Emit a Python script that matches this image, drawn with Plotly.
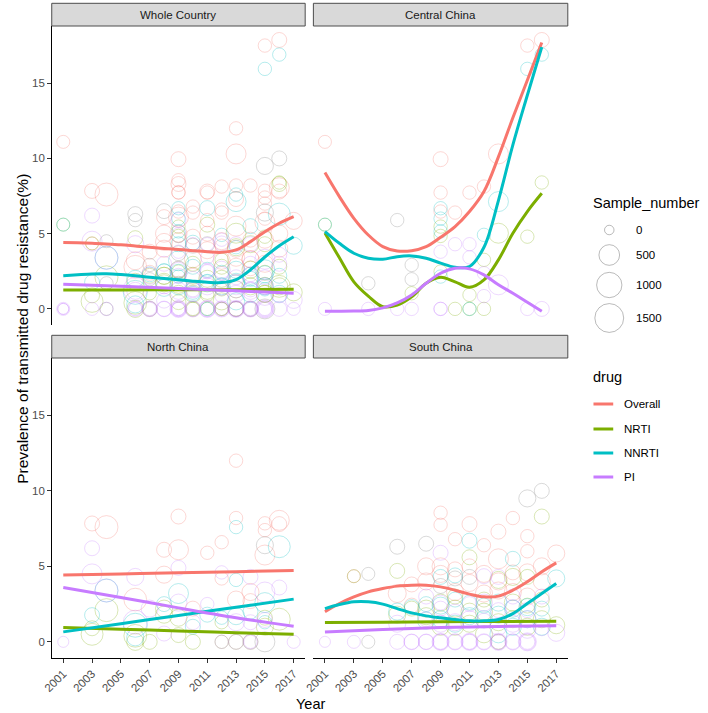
import math
import plotly.graph_objects as go

# ---------------- data ----------------
DRUGS = ["Overall", "NRTI", "NNRTI", "PI"]
PANELS = ["Whole Country", "Central China", "North China", "South China"]
YEAR_TICKS = [2001, 2003, 2005, 2007, 2009, 2011, 2013, 2015, 2017]
Y_TICKS = [0, 5, 10, 15]
SIZE_BREAKS = [0, 500, 1000, 1500]

# points: (year, prevalence %, sample_number)
north_overall = [(2003, 7.84, 120), (2004, 7.6, 730), (2006, 2.8, 700), (2008, 6.1, 120),
                 (2008, 4.45, 230), (2009, 8.3, 120), (2009, 6.1, 440), (2010, 2.2, 120), (2011, 5.9, 60),
                 (2012, 6.6, 60), (2012, 4.2, 60), (2013, 12.0, 60), (2013, 8.2, 60), (2013, 2.8, 230),
                 (2014, 3.3, 230), (2014, 2.7, 120), (2015, 7.85, 60), (2015, 7.4, 60), (2015, 5.75, 440),
                 (2016, 8.05, 440), (2016, 7.8, 120)]
north_nrti = [(2003, 0.9, 120), (2003, 0.5, 620), (2004, 2.1, 730), (2006, 0.4, 700),
              (2006, 0, 230), (2007, 0, 120), (2008, 2.2, 230), (2008, 1.8, 230), (2009, 1.6, 230),
              (2009, 0.45, 120), (2010, 0, 120), (2012, 1.3, 60), (2012, 0, 60), (2013, 0, 120),
              (2014, 0, 120), (2015, 1.6, 120), (2015, 1.0, 230), (2016, 1.5, 620)]
north_nnrti = [(2003, 1.77, 120), (2004, 3.4, 730), (2006, 1.1, 840), (2006, 0.3, 230),
               (2008, 2.5, 120), (2009, 3.2, 440), (2010, 1.0, 120), (2011, 1.8, 120), (2012, 1.6, 60),
               (2013, 7.6, 60), (2013, 4.1, 60), (2013, 1.7, 230), (2014, 2.0, 120),
               (2015, 2.6, 440), (2015, 1.3, 60), (2016, 6.3, 620)]
north_pi = [(2001, 0, 10), (2003, 6.2, 120), (2003, 4.5, 440), (2004, 3.4, 730), (2006, 4.3, 230),
            (2006, 1.3, 840), (2007, 2.2, 230), (2008, 0.55, 120), (2009, 4.9, 120), (2009, 2.6, 230),
            (2010, 1.3, 120), (2011, 2.5, 60), (2012, 4.6, 60), (2012, 0, 60),
            (2013, 1.3, 230), (2013, 0, 120), (2014, 4.3, 120), (2014, 1.3, 120), (2014, 0, 120),
            (2014, 0, 60), (2015, 3.3, 440), (2015, 1.45, 120), (2016, 3.6, 120), (2017, 0, 50)]
north_unassigned = [(2015, 6.4, 230), (2015, 0, 440)]

central_overall = [(2001, 11.1, 50), (2009, 9.95, 120), (2009, 7.73, 60), (2009, 6.47, 60),
                   (2010, 6.4, 60), (2011, 7.73, 60), (2012, 8.13, 60), (2013, 10.3, 440), (2015, 17.5, 60),
                   (2016, 17.87, 120)]
central_nrti = [(2001, 5.6, 50), (2007, 1.04, 60), (2009, 5.47, 60), (2009, 4.85, 60),
                (2009, 2.48, 60), (2010, 0, 60), (2011, 0.93, 60), (2011, 0, 60), (2012, 3.26, 60),
                (2012, 0, 60), (2013, 5.03, 440), (2015, 4.8, 60), (2016, 8.4, 60)]
central_nnrti = [(2001, 5.6, 50), (2009, 6.69, 60), (2009, 6.0, 60), (2009, 5.15, 60),
                 (2009, 2.15, 60), (2011, 0, 60), (2012, 4.92, 60), (2013, 7.13, 440), (2015, 15.95, 60),
                 (2016, 16.9, 60)]
central_pi = [(2001, 0, 50), (2004, 0, 60), (2006, 0, 60), (2007, 0, 60), (2009, 3.8, 60), (2009, 0, 60),
              (2009, 0, 60), (2010, 4.3, 60), (2011, 4.3, 60), (2011, 3.43, 60), (2012, 2.37, 60),
              (2012, 0.85, 60), (2013, 1.6, 440), (2015, 0, 60), (2016, 0, 120)]
central_unassigned = [(2004, 1.7, 60), (2006, 5.9, 60), (2007, 2.92, 60), (2007, 1.97, 60)]

south_overall = [(2003, 4.35, 50), (2006, 3.2, 290), (2007, 2.4, 120), (2007, 3.8, 120),
                 (2008, 5.0, 230), (2008, 4.0, 230), (2009, 8.55, 60), (2009, 7.75, 60), (2009, 5.0, 230),
                 (2009, 4.5, 230), (2010, 6.8, 60), (2010, 4.8, 120), (2010, 3.3, 230), (2011, 7.8, 120),
                 (2011, 5.0, 120), (2011, 3.9, 230), (2012, 6.4, 60), (2012, 4.5, 230), (2012, 3.2, 230),
                 (2013, 7.3, 120), (2013, 5.5, 440), (2013, 4.0, 230), (2013, 3.4, 230), (2014, 8.2, 60),
                 (2014, 4.6, 120), (2014, 3.3, 230), (2015, 7.0, 60), (2015, 6.0, 60), (2015, 4.6, 230),
                 (2015, 3.0, 230), (2016, 5.0, 230), (2016, 4.0, 230), (2017, 5.85, 230)]
south_nrti = [(2003, 4.35, 50), (2006, 4.7, 120), (2006, 1.8, 230), (2007, 2.2, 120), (2008, 2.2, 230),
              (2008, 1.7, 230), (2009, 2.6, 230), (2009, 1.0, 230), (2010, 3.0, 120), (2010, 2.2, 230),
              (2010, 1.0, 230), (2011, 5.6, 120), (2011, 2.0, 230), (2011, 1.2, 230), (2012, 2.8, 120),
              (2012, 2.0, 230), (2012, 0.5, 230), (2013, 4.1, 230), (2013, 1.3, 230), (2013, 0, 120),
              (2014, 4.3, 230), (2014, 2.6, 230), (2014, 1.5, 230), (2015, 4.3, 120), (2015, 2.4, 120),
              (2015, 1.0, 230), (2016, 8.3, 120), (2016, 2.8, 120), (2016, 1.5, 230), (2017, 1.1, 230)]
south_nnrti = [(2006, 2.0, 230), (2007, 2.3, 120), (2008, 2.5, 120), (2008, 1.4, 230), (2009, 4.3, 120),
               (2009, 2.4, 230), (2009, 1.5, 230), (2010, 4.4, 120), (2010, 2.8, 120), (2010, 1.2, 230),
               (2011, 6.7, 120), (2011, 2.6, 120), (2011, 1.7, 230), (2012, 2.4, 120), (2012, 1.5, 230),
               (2013, 2.6, 230), (2013, 1.8, 230), (2013, 0.5, 230), (2014, 5.5, 120), (2014, 2.2, 230),
               (2014, 1.0, 230), (2015, 2.3, 230), (2015, 1.5, 230), (2016, 2.2, 120), (2016, 1.0, 230),
               (2017, 4.2, 230)]
south_pi = [(2001, 0, 10), (2003, 0, 50), (2006, 1.2, 230), (2006, 0, 120), (2007, 0, 120), (2007, 0, 150),
            (2008, 3.0, 120), (2008, 1.5, 120), (2008, 0, 120), (2008, 0, 150), (2009, 5.9, 120),
            (2009, 2.6, 120), (2009, 2.2, 120), (2009, 1.2, 230), (2009, 0, 120), (2009, 0, 230),
            (2009, 0, 160), (2010, 2.0, 120), (2010, 1.3, 230), (2010, 0, 120), (2010, 0, 180),
            (2011, 2.5, 120), (2011, 1.5, 230), (2011, 0, 120), (2011, 0, 230), (2011, 0, 160),
            (2012, 4.35, 120), (2012, 2.6, 230), (2012, 1.4, 120), (2012, 0, 120), (2012, 0, 180),
            (2013, 4.3, 120), (2013, 2.1, 120), (2013, 1.0, 230), (2013, 0, 120), (2013, 0, 230),
            (2013, 0, 160), (2014, 3.0, 120), (2014, 2.3, 120), (2014, 1.2, 230), (2014, 0, 120),
            (2014, 0, 180), (2015, 2.1, 120), (2015, 1.5, 230), (2015, 0.8, 230), (2015, 0, 290),
            (2015, 0, 120), (2015, 0, 200), (2016, 3.0, 120), (2016, 0.9, 120), (2017, 0.6, 230)]
south_unassigned = [(2004, 4.5, 50), (2004, 0, 50), (2006, 6.3, 120), (2008, 6.5, 120), (2009, 3.7, 120),
                    (2010, 4.2, 120), (2011, 4.3, 120), (2015, 9.5, 230), (2016, 10.0, 120)]

# smoothed trend lines
fit_years_full = list(range(2001, 2018))
fit_years_central = list(range(2001, 2017))
fit_years_sparse = [2001, 2005, 2009, 2013, 2017]

wc_fit_overall = [4.41, 4.40, 4.37, 4.32, 4.26, 4.18, 4.10, 4.02, 3.95, 3.87, 3.80, 3.76, 3.92, 4.47, 5.13, 5.69, 6.13]
wc_fit_nnrti = [2.21, 2.27, 2.32, 2.33, 2.28, 2.20, 2.10, 2.02, 1.93, 1.84, 1.77, 1.75, 1.95, 2.60, 3.45, 4.20, 4.80]
wc_fit_nrti = [1.26, 1.26, 1.27, 1.28, 1.30]
wc_fit_pi = [1.64, 1.50, 1.36, 1.20, 1.04]

central_fit_overall = [9.06, 7.46, 6.02, 4.91, 4.14, 3.85, 3.87, 4.14, 4.76, 5.47, 6.47, 7.80, 10.1, 12.7, 15.2, 17.7]
central_fit_nnrti = [5.14, 4.36, 3.70, 3.37, 3.30, 3.47, 3.52, 3.37, 3.04, 2.77, 2.82, 4.10, 7.20, 10.9, 14.2, 17.4]
central_fit_nrti = [5.05, 3.40, 1.80, 0.85, 0.15, 0.25, 0.80, 1.70, 2.10, 1.80, 1.44, 1.93, 3.26, 5.03, 6.47, 7.68]
central_fit_pi = [-0.15, -0.15, -0.14, -0.10, 0.07, 0.40, 0.93, 1.70, 2.37, 2.70, 2.66, 2.26, 1.60, 1.04, 0.44, -0.15]

north_fit_overall = [4.42, 4.50, 4.58, 4.65, 4.73]
north_fit_nnrti = [0.66, 1.20, 1.75, 2.29, 2.83]
north_fit_nrti = [0.95, 0.84, 0.72, 0.61, 0.50]
north_fit_pi = [3.60, 2.94, 2.25, 1.60, 1.04]

south_fit_overall = [1.99, 2.54, 2.98, 3.31, 3.53, 3.69, 3.75, 3.75, 3.64, 3.42, 3.16, 2.98, 3.03, 3.42, 3.98, 4.64, 5.23]
south_fit_nnrti = [2.20, 2.47, 2.65, 2.65, 2.50, 2.20, 1.92, 1.72, 1.59, 1.48, 1.39, 1.39, 1.48, 1.87, 2.54, 3.20, 3.86]
south_fit_nrti = [1.28, 1.30, 1.33, 1.35, 1.37]
south_fit_pi = [0.66, 0.82, 0.95, 1.02, 1.06]

# ---------------- assembly ----------------
W, H = 708, 713
COLORS = {"Overall": "#F8766D", "NRTI": "#7CAE00", "NNRTI": "#00BFC4", "PI": "#C77CFF", "NA": "#7F7F7F"}
RGB = {"Overall": (248, 118, 109), "NRTI": (124, 174, 0), "NNRTI": (0, 191, 196), "PI": (199, 124, 255),
       "NA": (127, 127, 127)}
FONT = "Liberation Sans, Arial, Helvetica, sans-serif"
ALPHA = 0.45


def diam(n):
    return 9.5 + 0.5 * math.sqrt(n)


def fx(p):
    return p / W


def fy(p):
    return 1 - p / H


region_points = {
    "North China": {"Overall": north_overall, "NRTI": north_nrti, "NNRTI": north_nnrti, "PI": north_pi,
                    "NA": north_unassigned},
    "Central China": {"Overall": central_overall, "NRTI": central_nrti, "NNRTI": central_nnrti, "PI": central_pi,
                      "NA": central_unassigned},
    "South China": {"Overall": south_overall, "NRTI": south_nrti, "NNRTI": south_nnrti, "PI": south_pi,
                    "NA": south_unassigned},
}
GROUPS = DRUGS + ["NA"]
panel_points = dict(region_points)
panel_points["Whole Country"] = {
    g: region_points["North China"][g] + region_points["Central China"][g] + region_points["South China"][g]
    for g in GROUPS
}

panel_fits = {
    "Whole Country": {"Overall": (fit_years_full, wc_fit_overall), "NRTI": (fit_years_sparse, wc_fit_nrti),
                      "NNRTI": (fit_years_full, wc_fit_nnrti), "PI": (fit_years_sparse, wc_fit_pi)},
    "Central China": {"Overall": (fit_years_central, central_fit_overall), "NRTI": (fit_years_central, central_fit_nrti),
                      "NNRTI": (fit_years_central, central_fit_nnrti), "PI": (fit_years_central, central_fit_pi)},
    "North China": {"Overall": (fit_years_sparse, north_fit_overall), "NRTI": (fit_years_sparse, north_fit_nrti),
                    "NNRTI": (fit_years_sparse, north_fit_nnrti), "PI": (fit_years_sparse, north_fit_pi)},
    "South China": {"Overall": (fit_years_full, south_fit_overall), "NRTI": (fit_years_sparse, south_fit_nrti),
                    "NNRTI": (fit_years_full, south_fit_nnrti), "PI": (fit_years_sparse, south_fit_pi)},
}

# panel geometry in pixels: (left, right, top, bottom, is_left_col, is_bottom_row)
geom = {
    "Whole Country": (43.3, 300, 26, 325, True, False),
    "Central China": (308.3, 566, 26, 325, False, False),
    "North China": (43.3, 300, 358, 658, True, True),
    "South China": (308.3, 566, 358, 658, False, True),
}
STRIP_H = 22.7

fig = go.Figure()
layout = dict(
    width=W, height=H, margin=dict(l=0, r=0, t=0, b=0),
    paper_bgcolor="white", plot_bgcolor="white", showlegend=False,
    font=dict(family=FONT, size=11, color="#4D4D4D"),
)
shapes = []
annotations = []

for i, panel in enumerate(PANELS):
    k = "" if i == 0 else str(i + 1)
    xa, ya = "x" + k, "y" + k
    l, r, t, b, left, bottom = geom[panel]
    layout["xaxis" + k] = dict(
        domain=[fx(l), fx(r)], range=[2000.2, 2017.8], tickvals=YEAR_TICKS, ticktext=[str(v) for v in YEAR_TICKS],
        showgrid=False, zeroline=False, showline=bottom, linecolor="black", linewidth=1.1,
        ticks="outside" if bottom else "", ticklen=3.5, tickwidth=1, tickcolor="#333333",
        showticklabels=bottom, tickangle=-45, tickfont=dict(size=11.5, color="#4D4D4D"), anchor=ya,
    )
    layout["yaxis" + k] = dict(
        domain=[fy(b), fy(t)], range=[-1.07, 18.8], tickvals=Y_TICKS,
        showgrid=False, zeroline=False, showline=left, linecolor="black", linewidth=1.1,
        ticks="outside" if left else "", ticklen=3.5, tickwidth=1, tickcolor="#333333",
        showticklabels=left, tickfont=dict(size=11.5, color="#4D4D4D"), anchor=xa,
    )
    for g in GROUPS:
        pts = panel_points[panel][g]
        rr, gg, bb = RGB[g]
        fig.add_trace(go.Scatter(
            x=[p[0] for p in pts], y=[p[1] for p in pts], xaxis=xa, yaxis=ya, mode="markers",
            marker=dict(symbol="circle", size=[diam(p[2]) for p in pts], color="rgba(0,0,0,0)",
                        line=dict(color=f"rgba({rr},{gg},{bb},{ALPHA})", width=0.9)),
            hoverinfo="skip",
        ))
    shapes.append(dict(type="rect", xref="paper", yref="paper", x0=fx(l), x1=fx(r), y0=fy(t), y1=fy(t - STRIP_H),
                       fillcolor="#D9D9D9", line=dict(color="#4D4D4D", width=1)))
    annotations.append(dict(xref="paper", yref="paper", x=fx((l + r) / 2), y=fy(t - STRIP_H / 2), text=panel,
                            showarrow=False, font=dict(size=11.5, color="#1A1A1A", family=FONT),
                            xanchor="center", yanchor="middle"))

for i, panel in enumerate(PANELS):
    k = "" if i == 0 else str(i + 1)
    for d in DRUGS:
        xs, ys = panel_fits[panel][d]
        fig.add_trace(go.Scatter(
            x=xs, y=ys, xaxis="x" + k, yaxis="y" + k, mode="lines",
            line=dict(color=COLORS[d], width=3, shape="spline", smoothing=1.0), hoverinfo="skip",
        ))

# size legend drawn on its own pixel-scaled axes
size_legend_y = [230, 255, 285, 318]
layout["xaxis5"] = dict(domain=[fx(590), fx(630)], range=[590, 630], visible=False, anchor="y5")
layout["yaxis5"] = dict(domain=[fy(340), fy(215)], range=[340, 215], visible=False, anchor="x5")
fig.add_trace(go.Scatter(
    x=[608] * len(SIZE_BREAKS), y=size_legend_y, xaxis="x5", yaxis="y5", mode="markers",
    marker=dict(symbol="circle", size=[diam(v) for v in SIZE_BREAKS], color="rgba(0,0,0,0)",
                line=dict(color="rgba(0,0,0,0.42)", width=0.9)), hoverinfo="skip",
))
annotations.append(dict(xref="paper", yref="paper", x=fx(589), y=fy(203), text="Sample_number", showarrow=False,
                        xanchor="left", yanchor="middle", font=dict(size=14.5, color="black", family=FONT)))
for v, yy in zip(SIZE_BREAKS, size_legend_y):
    annotations.append(dict(xref="paper", yref="paper", x=fx(633), y=fy(yy), text=str(v), showarrow=False,
                            xanchor="left", yanchor="middle", font=dict(size=11.5, color="black", family=FONT)))

annotations.append(dict(xref="paper", yref="paper", x=fx(589), y=fy(377), text="drug", showarrow=False,
                        xanchor="left", yanchor="middle", font=dict(size=14.5, color="black", family=FONT)))
drug_legend_y = [404, 429, 453, 477]
for d, yy in zip(DRUGS, drug_legend_y):
    shapes.append(dict(type="line", xref="paper", yref="paper", x0=fx(592), x1=fx(612), y0=fy(yy), y1=fy(yy),
                       line=dict(color=COLORS[d], width=3)))
    annotations.append(dict(xref="paper", yref="paper", x=fx(621), y=fy(yy), text=d, showarrow=False,
                            xanchor="left", yanchor="middle", font=dict(size=11.5, color="black", family=FONT)))

annotations.append(dict(xref="paper", yref="paper", x=fx(305), y=fy(704), text="Year", showarrow=False,
                        xanchor="center", yanchor="middle", font=dict(size=14.5, color="black", family=FONT)))
annotations.append(dict(xref="paper", yref="paper", x=fx(13), y=fy(329),
                        text="Prevalence of transmitted drug resistance(%)", showarrow=False, textangle=-90,
                        xanchor="center", yanchor="middle", font=dict(size=15.5, color="black", family=FONT)))

layout["shapes"] = shapes
layout["annotations"] = annotations
fig.update_layout(**layout)

fig.write_html("out.html", config={"displayModeBar": False},
               post_script="document.body.style.margin='0px';")
